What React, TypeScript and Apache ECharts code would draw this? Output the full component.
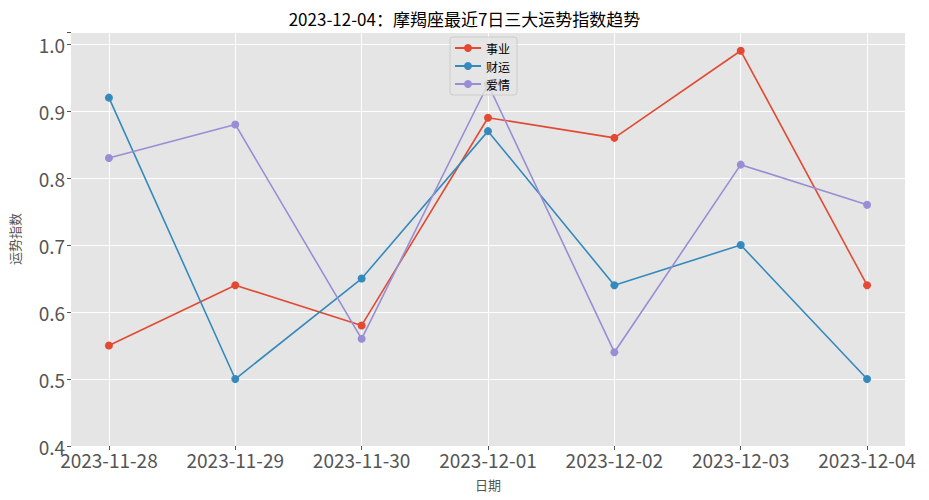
import React, { useEffect, useRef } from "react";
import * as echarts from "echarts";

const dates = ["2023-11-28", "2023-11-29", "2023-11-30", "2023-12-01", "2023-12-02", "2023-12-03", "2023-12-04"];
const career = [0.55, 0.64, 0.58, 0.89, 0.86, 0.99, 0.64];
const wealth = [0.92, 0.5, 0.65, 0.87, 0.64, 0.7, 0.5];
const love = [0.83, 0.88, 0.56, 0.94, 0.54, 0.82, 0.76];
const seriesNames = ["事业", "财运", "爱情"];
const colors = ["#E24A33", "#348ABD", "#988ED5"];
const xIdx = [0, 1, 2, 3, 4, 5, 6];

const FONT = "'Noto Sans CJK SC', 'DejaVu Sans', sans-serif";

export default function App() {
  const ref = useRef<HTMLDivElement>(null);
  useEffect(() => {
    if (!ref.current) return;
    const chart = echarts.init(ref.current, undefined, { renderer: "svg" });
    const values = [career, wealth, love];
    chart.setOption({
      animation: false,
      backgroundColor: "#ffffff",
      title: {
        text: "2023-12-04：摩羯座最近7日三大运势指数趋势",
        left: "center",
        top: 5,
        textStyle: { fontFamily: FONT, fontSize: 17, fontWeight: "normal", color: "#000" },
      },
      legend: {
        orient: "vertical",
        left: 450,
        top: 37,
        itemWidth: 26,
        itemHeight: 10,
        itemGap: 6,
        padding: [5, 7, 5, 4],
        backgroundColor: "rgba(229,229,229,0.8)",
        borderColor: "#cccccc",
        borderWidth: 1,
        borderRadius: 3,
        textStyle: { fontFamily: FONT, fontSize: 12, color: "#000" },
        data: seriesNames,
      },
      grid: { left: 68, right: 24, top: 32, bottom: 54, show: true, backgroundColor: "#E5E5E5", borderWidth: 0 },
      xAxis: {
        type: "value",
        min: -0.3,
        max: 6.3,
        name: "日期",
        nameLocation: "middle",
        nameGap: 32,
        nameTextStyle: { fontFamily: FONT, fontSize: 13, color: "#555" },
        axisLine: { show: false, onZero: false },
        axisTick: { show: true, length: 4, lineStyle: { color: "#555" }, customValues: xIdx },
        axisLabel: {
          customValues: xIdx,
          fontFamily: FONT,
          fontSize: 19,
          color: "#555",
          margin: 4,
          formatter: (v: number) => dates[Math.round(v)] ?? "",
        },
        splitLine: { show: true, lineStyle: { color: "#ffffff", width: 1 }, customValues: xIdx },
      },
      yAxis: {
        type: "value",
        min: 0.4,
        max: 1.018,
        interval: 0.1,
        name: "运势指数",
        nameLocation: "middle",
        nameGap: 50,
        nameRotate: 90,
        nameTextStyle: { fontFamily: FONT, fontSize: 13, color: "#555" },
        axisLine: { show: false, onZero: false },
        axisTick: { show: true, length: 4, lineStyle: { color: "#555" } },
        axisLabel: {
          fontFamily: FONT,
          fontSize: 19,
          color: "#555",
          margin: 6,
          formatter: (v: number) => (v > 1.01 ? "" : v.toFixed(1)),
        },
        splitLine: { show: true, lineStyle: { color: "#ffffff", width: 1 } },
      },
      series: seriesNames.map((name, i) => ({
        name,
        type: "line",
        data: values[i].map((v, j) => [xIdx[j], v]),
        symbol: "circle",
        symbolSize: 8,
        itemStyle: { color: colors[i] },
        lineStyle: { color: colors[i], width: 1.6 },
      })),
    });
    return () => chart.dispose();
  }, []);
  return <div ref={ref} style={{ width: 929, height: 500, position: "absolute", left: 0, top: 0 }} />;
}
